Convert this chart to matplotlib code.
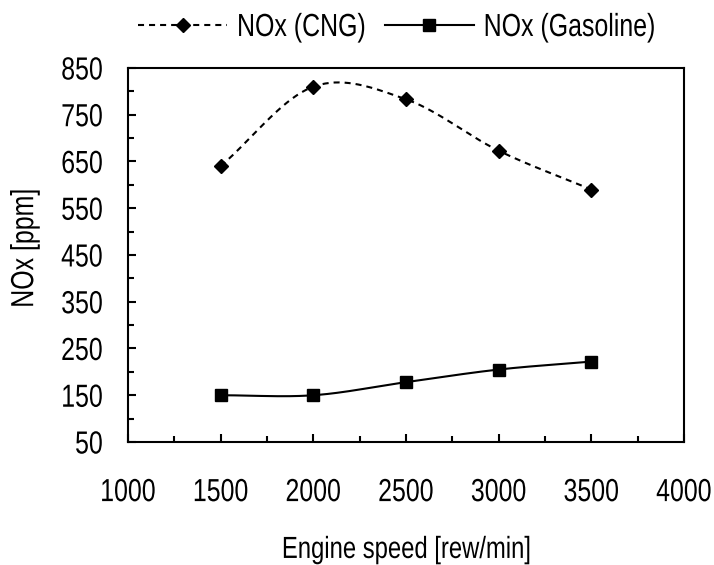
import numpy as np
import matplotlib.pyplot as plt
from matplotlib.patheffects import AbstractPathEffect
from matplotlib.transforms import Affine2D

# Engine speed sweep and measured NOx
speed = [1500, 2000, 2500, 3000, 3500]
nox_cng = [640, 810, 783, 673, 590]
nox_gasoline = [150, 150, 178, 205, 222]

x_ticks = [1000, 1500, 2000, 2500, 3000, 3500, 4000]
y_ticks = [50, 150, 250, 350, 450, 550, 650, 750, 850]
series_names = ['NOx (CNG)', 'NOx (Gasoline)']

FS = 23
LW = 1.5


class Narrow(AbstractPathEffect):
    """Squeeze glyphs horizontally to get an Arial Narrow look."""

    def __init__(self, factor=0.78, anchor='center'):
        super().__init__()
        self.factor = factor
        self.anchor = anchor

    def draw_path(self, renderer, gc, tpath, affine, rgbFace=None):
        xs = tpath.vertices[:, 0]
        if len(xs) == 0:
            return
        if self.anchor == 'left':
            x0 = 0.0
        elif self.anchor == 'right':
            x0 = xs.max()
        else:
            x0 = 0.5 * (xs.min() + xs.max())
        squeeze = Affine2D().translate(-x0, 0).scale(self.factor, 1).translate(x0, 0)
        renderer.draw_path(gc, tpath, squeeze + affine, rgbFace)


def smooth(x, y, n=40):
    # Catmull-Rom through the points, like a spreadsheet "smoothed line"
    x = np.asarray(x, float)
    y = np.asarray(y, float)
    px = np.concatenate([[2 * x[0] - x[1]], x, [2 * x[-1] - x[-2]]])
    py = np.concatenate([[2 * y[0] - y[1]], y, [2 * y[-1] - y[-2]]])
    xs, ys = [], []
    t = np.linspace(0, 1, n)
    for i in range(1, len(px) - 2):
        for p, out in ((px, xs), (py, ys)):
            p0, p1, p2, p3 = p[i - 1], p[i], p[i + 1], p[i + 2]
            out.extend(0.5 * (2 * p1 + (-p0 + p2) * t
                              + (2 * p0 - 5 * p1 + 4 * p2 - p3) * t ** 2
                              + (-p0 + 3 * p1 - 3 * p2 + p3) * t ** 3))
    return np.array(xs), np.array(ys)


plt.rcParams['font.family'] = ['Liberation Sans', 'DejaVu Sans']

fig = plt.figure(figsize=(7.14, 5.65), dpi=100)
ax = fig.add_axes([0.1793, 0.2177, 0.7787, 0.662])

dash = (0, (2.9, 2.4))
sx, sy = smooth(speed, nox_cng)
ax.plot(sx, sy, color='black', lw=LW, ls=dash)
ax.plot(speed, nox_cng, ls='none', marker='D', ms=7.5, color='black')
gx, gy = smooth(speed, nox_gasoline)
ax.plot(gx, gy, color='black', lw=LW)
ax.plot(speed, nox_gasoline, ls='none', marker='s', ms=9, color='black')

ax.set_xlim(1000, 4000)
ax.set_ylim(50, 850)
ax.set_xticks(x_ticks)
ax.set_yticks(y_ticks)
ax.set_xticks(np.arange(1250, 4000, 500), minor=True)
ax.set_yticks(np.arange(100, 850, 100), minor=True)
ax.tick_params(which='both', direction='in', labelsize=FS, width=LW)
ax.tick_params(which='major', length=6)
ax.tick_params(which='minor', length=4.3)
ax.tick_params(axis='x', pad=26)
ax.tick_params(axis='y', pad=18)
for s in ax.spines.values():
    s.set_linewidth(LW)

for lab in ax.get_xticklabels():
    lab.set_path_effects([Narrow(anchor='center')])
for lab in ax.get_yticklabels():
    lab.set_path_effects([Narrow(anchor='right')])

xl = ax.set_xlabel('Engine speed [rew/min]', fontsize=22, va='baseline')
ax.xaxis.set_label_coords(0.5, -0.31)
xl.set_path_effects([Narrow()])
yl = ax.set_ylabel('NOx [ppm]', fontsize=FS, va='center')
ax.yaxis.set_label_coords(-0.185, 0.519)
yl.set_path_effects([Narrow()])

h1 = plt.Line2D([], [], color='black', lw=LW, ls=dash, marker='D', ms=7.5)
h2 = plt.Line2D([], [], color='black', lw=LW, marker='s', ms=9)
leg = fig.legend([h1, h2], series_names, loc='center left',
                 bbox_to_anchor=(138 / 714, 1 - 28 / 565), ncol=2,
                 frameon=False, fontsize=FS, borderpad=0, borderaxespad=0,
                 handlelength=2.8, columnspacing=-0.56, handletextpad=0.3)
for txt in leg.get_texts():
    txt.set_path_effects([Narrow(anchor='left')])

fig.savefig('out.png', dpi=100)
